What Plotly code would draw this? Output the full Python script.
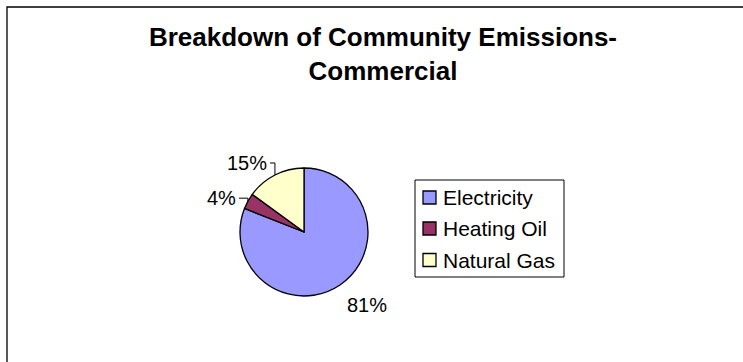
import math
import plotly.graph_objects as go

# Commercial-sector emission sources and their shares
sources = ["Electricity", "Heating Oil", "Natural Gas"]
shares = [81, 4, 15]
slice_colors = ["#9999FF", "#993366", "#FFFFCC"]

W, H = 743, 362
FONT = "Liberation Sans, Arial, sans-serif"

# pie placement in pixels
cx, cy, r = 304, 232, 64

# label placement relative to each slice's rim point: (dx, dy, xanchor, leader)
label_style = [
    (5, 20, "left", False),
    (-10, -3, "right", True),
    (-6, -12, "right", True),
]


def px(x):
    return x / W


def py(y):
    return 1 - y / H


fig = go.Figure(
    go.Pie(
        labels=sources,
        values=shares,
        sort=False,
        direction="clockwise",
        rotation=0,
        marker=dict(colors=slice_colors, line=dict(color="#000000", width=1.3)),
        textinfo="none",
        hoverinfo="label+percent",
        showlegend=False,
        domain=dict(x=[(cx - r) / W, (cx + r) / W],
                    y=[(H - cy - r) / H, (H - cy + r) / H]),
    )
)

total = sum(shares)
shapes = []
annotations = []

# percentage labels at each slice's mid-angle, with elbow leaders for the small ones
start = 0.0
for v, (dx, dy, xa, leader) in zip(shares, label_style):
    mid = (start + v / 2) / total * 2 * math.pi
    start += v
    ex = cx + r * math.sin(mid)
    ey = cy - r * math.cos(mid)
    tx, ty = ex + dx, ey + dy
    annotations.append(dict(
        x=px(tx), y=py(ty), xref="paper", yref="paper",
        text=f"{round(v / total * 100)}%", showarrow=False,
        xanchor=xa, yanchor="middle",
        font=dict(family=FONT, size=20, color="#000000"),
    ))
    if leader:
        path = (f"M {px(ex)},{py(ey)} L {px(ex)},{py(ty)} "
                f"L {px(tx + 1)},{py(ty)}")
        shapes.append(dict(type="path", xref="paper", yref="paper", path=path,
                           line=dict(color="#000000", width=1)))

# legend box with swatches
lx0, lx1, ly0, ly1 = 415, 564, 180, 277
shapes.append(dict(type="rect", xref="paper", yref="paper",
                   x0=px(lx0), x1=px(lx1), y0=py(ly1), y1=py(ly0),
                   line=dict(color="#000000", width=1), fillcolor="#FFFFFF"))
row_y = [197.5, 228.5, 260]
for name, col, yy in zip(sources, slice_colors, row_y):
    shapes.append(dict(type="rect", xref="paper", yref="paper",
                       x0=px(423), x1=px(436), y0=py(yy + 6.5), y1=py(yy - 6.5),
                       line=dict(color="#000000", width=1.3), fillcolor=col))
    annotations.append(dict(
        x=px(441), y=py(yy), xref="paper", yref="paper",
        text=name, showarrow=False, xanchor="left", yanchor="middle",
        font=dict(family=FONT, size=21, color="#000000"),
    ))

# chart-area frame
shapes.append(dict(type="rect", xref="paper", yref="paper",
                   x0=7 / W, x1=1.05, y0=-0.05, y1=1 - 7 / H,
                   line=dict(color="#000000", width=1.3),
                   fillcolor="rgba(0,0,0,0)"))

fig.update_layout(
    width=W,
    height=H,
    margin=dict(l=0, r=0, t=0, b=0),
    paper_bgcolor="#FFFFFF",
    title=dict(
        text="<b>Breakdown of Community Emissions-<br>Commercial</b>",
        x=383 / W,
        xanchor="center",
        y=1 - 46 / H,
        yanchor="top",
        font=dict(family=FONT, size=26, color="#000000"),
    ),
    shapes=shapes,
    annotations=annotations,
)

fig.write_html("out.html")
